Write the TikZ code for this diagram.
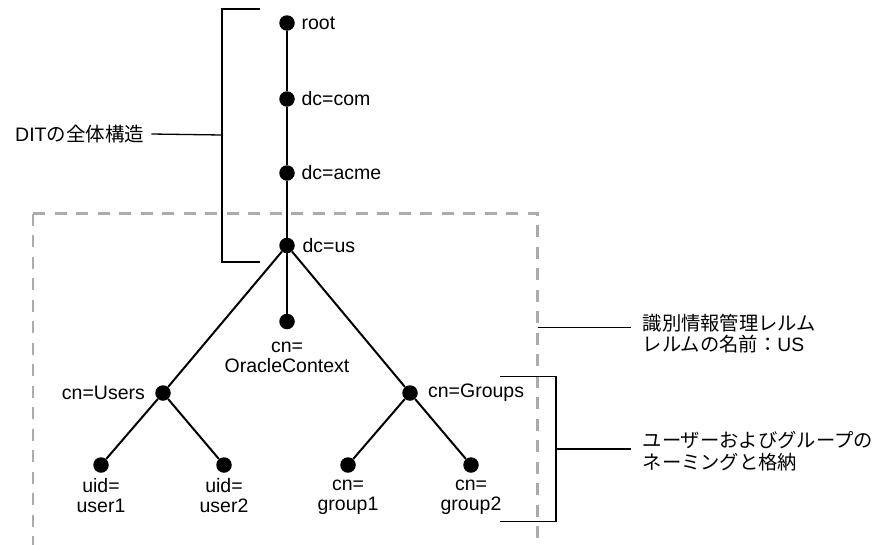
\documentclass[tikz,border=0pt]{standalone}
\usepackage{fontspec}
\setmainfont{Liberation Sans}
\newfontfamily\jp{Noto Sans CJK JP}
\usetikzlibrary{positioning}

\begin{document}
\begin{tikzpicture}[x=1pt, y=-1pt,
    entry/.style={circle, fill=black, inner sep=0pt, minimum size=15.5pt},
    branch/.style={line width=2pt},
    lbl/.style={inner sep=0pt, font=\fontsize{19.5}{20}\selectfont, align=center},
    note/.style={inner sep=0pt, font=\fontsize{19.3}{21.5}\selectfont\jp, align=left},
    brace/.style={line width=1.3pt},
    realm/.style={line width=2.2pt, black!33, dash pattern=on 12pt off 9.5pt}
  ]
  \useasboundingbox (0,0) rectangle (883,544);

  % Identity management realm (runs off the bottom edge)
  \draw[realm] (33,213.5) -- (33,550);
  \draw[realm] (33,213.5) -- (537.5,213.5) -- (537.5,550);

  % DIT entries
  \node[entry] (root) at (287,23) {};
  \node[entry] (com) at (287,99) {};
  \node[entry] (acme) at (287,173) {};
  \node[entry] (us) at (287,245.5) {};
  \node[entry] (octx) at (287,321.5) {};
  \node[entry] (users) at (163,393) {};
  \node[entry] (groups) at (410,393) {};
  \node[entry] (user1) at (101,465) {};
  \node[entry] (user2) at (224,465) {};
  \node[entry] (group1) at (348,465) {};
  \node[entry] (group2) at (471,465) {};

  % Tree branches
  \draw[branch] (root) -- (com) -- (acme) -- (us) -- (octx);
  \draw[branch] (us) -- (users);
  \draw[branch] (us) -- (groups);
  \draw[branch] (users) -- (user1);
  \draw[branch] (users) -- (user2);
  \draw[branch] (groups) -- (group1);
  \draw[branch] (groups) -- (group2);

  % Entry names
  \node[lbl, right=6.5pt of root] (rootname) {root};
  \node[lbl, right=6.5pt of com] (comname) {dc=com};
  \node[lbl, right=6.5pt of acme] (acmename) {dc=acme};
  \node[lbl, right=7.5pt of us] (usname) {dc=us};
  \node[lbl, below=12pt of octx] (octxname) {cn=\\OracleContext};
  \node[lbl, left=10pt of users] (usersname) {cn=Users};
  \node[lbl, right=10pt of groups] (groupsname) {cn=Groups};
  \node[lbl, below=4.8pt of user1] (user1name) {uid=\\user1};
  \node[lbl, below=4.8pt of user2] (user2name) {uid=\\user2};
  \node[lbl, below=7.3pt of group1] (group1name) {cn=\\group1};
  \node[lbl, below=7.3pt of group2] (group2name) {cn=\\group2};

  % Overall DIT structure bracket
  \coordinate (ditmid) at (222,135);
  \draw[brace] (260,9) -| (222,262) -- (260,262);
  \node[lbl, anchor=west] (ditnote) at (15,134) {DIT{\jp の全体構造}};
  \draw[brace] ([xshift=7pt]ditnote.east) -- (ditmid);

  % Realm callout
  \coordinate (realmedge) at (537.5,327.7);
  \node[note, anchor=west] (realmnote) at (642.5,333.5) {識別情報管理レルム\\レルムの名前：{\rmfamily US}};
  \draw[brace] (realmedge) -- ([xshift=-12pt]realmnote.west |- realmedge);

  % User and group naming bracket
  \coordinate (ugmid) at (556,449);
  \draw[brace] (500,376.7) -| (556,521.7) -- (500,521.7);
  \node[note, anchor=west] (ugnote) at (642.5,451) {ユーザーおよびグループの\\ネーミングと格納};
  \draw[brace] (ugmid) -- ([xshift=-12pt]ugnote.west |- ugmid);
\end{tikzpicture}
\end{document}
